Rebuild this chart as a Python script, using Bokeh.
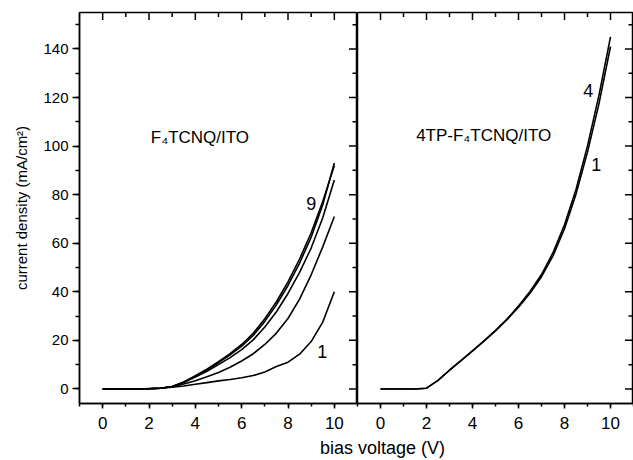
from bokeh.plotting import figure
from bokeh.models import SingleIntervalTicker, Range1d, Label, ColumnDataSource
from bokeh.layouts import column, row
from bokeh.embed import file_html
from bokeh.resources import INLINE
from bokeh.core.properties import value

FONT = "Liberation Sans"

# ---------------- data ----------------
volts = [0, 0.5, 1, 1.5, 2, 2.5, 3, 3.5, 4, 4.5, 5, 5.5, 6, 6.5, 7, 7.5, 8, 8.5, 9, 9.5, 10]

# F4TCNQ/ITO, successive sweeps (1 ... 9)
left_sweep_9a = [0, 0, 0, 0, 0.1, 0.3, 1.0, 2.8, 5.2, 7.8, 10.8, 14.0, 17.6, 22.0, 27.8, 34.6, 42.6, 51.8, 62.5, 75.8, 93.0]
left_sweep_9b = [0, 0, 0, 0, 0.1, 0.3, 1.0, 2.9, 5.4, 8.1, 11.2, 14.5, 18.3, 22.9, 28.9, 35.9, 44.1, 53.5, 64.3, 77.2, 92.0]
left_sweep_c = [0, 0, 0, 0, 0.1, 0.3, 0.9, 2.6, 4.9, 7.3, 10.0, 12.9, 16.2, 20.2, 25.5, 31.8, 39.3, 48.0, 58.0, 70.5, 86.0]
left_sweep_d = [0, 0, 0, 0, 0.1, 0.3, 0.9, 2.0, 3.4, 5.0, 6.8, 8.9, 11.5, 14.5, 18.3, 23.0, 29.0, 37.0, 47.0, 58.5, 71.0]
left_sweep_1 = [0, 0, 0, 0, 0.2, 0.4, 0.7, 1.2, 1.9, 2.6, 3.3, 3.9, 4.6, 5.5, 7.0, 9.2, 11.0, 14.3, 19.5, 27.5, 40.0]
left_series = [left_sweep_9a, left_sweep_9b, left_sweep_c, left_sweep_d, left_sweep_1]

# 4TP-F4TCNQ/ITO, sweeps 1 and 4
right_sweep_4 = [0, 0, 0, 0, 0.3, 3.5, 7.7, 11.7, 15.7, 19.8, 24.1, 28.8, 34.1, 40.1, 47.1, 56.1, 67.6, 82.1, 100.1, 121.0, 145.0]
right_sweep_1 = [0, 0, 0, 0, 0.3, 3.5, 7.7, 11.7, 15.7, 19.7, 23.9, 28.5, 33.6, 39.4, 46.2, 54.8, 66.0, 80.2, 97.5, 117.5, 141.0]
right_series = [right_sweep_4, right_sweep_1]

# tick values shared by both panels
x_major_ticks = [0, 2, 4, 6, 8, 10]
x_minor_ticks = [1, 3, 5, 7, 9]
y_major_ticks = [0, 20, 40, 60, 80, 100, 120, 140]
y_minor_ticks = [10, 30, 50, 70, 90, 110, 130, 150]

# annotations
left_title = "F₄TCNQ/ITO"
right_title = "4TP-F₄TCNQ/ITO"
left_title_pos = (2.08, 103.5)
right_title_pos = (1.55, 104.5)
left_num_text = ["9", "1"]
left_num_x = [8.79, 9.26]
left_num_y = [76.5, 15.5]
right_num_text = ["4", "1"]
right_num_x = [8.82, 9.16]
right_num_y = [122.8, 92.3]

x_label = "bias voltage (V)"
y_label = "current density (mA/cm²)"

X_RANGE = (-1, 11)
Y_RANGE = (-6, 155)
FRAME_H = 390          # px, frame height of both panels
FRAME_W = (278, 276)   # px, frame widths of left / right panel


# ---------------- helpers ----------------
def xt():
    return SingleIntervalTicker(interval=2, num_minor_ticks=2)


def yt():
    return SingleIntervalTicker(interval=20, num_minor_ticks=2)


def inner_ticks(p, frame_w):
    # inward ticks along the top and right frame edges (lengths given in px),
    # starting a hair inside the frame edge
    ux = (X_RANGE[1] - X_RANGE[0]) / frame_w    # data units per px
    uy = (Y_RANGE[1] - Y_RANGE[0]) / FRAME_H
    top = Y_RANGE[1] - 0.5 * uy
    rgt = X_RANGE[1] - 0.5 * ux
    xs0, ys0, xs1, ys1 = [], [], [], []
    for ticks, length in ((x_major_ticks, 7), (x_minor_ticks, 4)):
        for t in ticks:
            xs0.append(t); ys0.append(top); xs1.append(t); ys1.append(top - length * uy)
    for ticks, length in ((y_major_ticks, 8), (y_minor_ticks, 4.5)):
        for t in ticks:
            xs0.append(rgt); ys0.append(t); xs1.append(rgt - length * ux); ys1.append(t)
    src = ColumnDataSource(dict(x0=xs0, y0=ys0, x1=xs1, y1=ys1))
    p.segment(x0="x0", y0="y0", x1="x1", y1="y1", source=src,
              line_color="black", line_width=1.5)


def style_common(p):
    p.grid.visible = False
    p.outline_line_color = "black"
    p.outline_line_width = 1.5
    p.background_fill_color = "white"
    p.border_fill_color = "white"

    bx = p.xaxis[0]
    bx.ticker = xt()
    bx.major_tick_out = 5
    bx.major_tick_in = 0
    bx.minor_tick_out = 3
    bx.minor_tick_in = 0
    bx.major_tick_line_width = 1.5
    bx.minor_tick_line_width = 1.5
    bx.axis_line_width = 1.5
    bx.major_label_text_font = FONT
    bx.major_label_text_font_size = "17px"
    bx.major_label_text_color = "black"
    bx.major_label_standoff = 8


# ---------------- left panel ----------------
p1 = figure(width=79 + FRAME_W[0], height=431,
            x_range=Range1d(*X_RANGE), y_range=Range1d(*Y_RANGE),
            min_border_left=79, min_border_right=0, min_border_top=12, min_border_bottom=0,
            output_backend="svg", toolbar_location=None)
style_common(p1)
ly = p1.yaxis[0]
ly.ticker = yt()
ly.major_tick_out = 7
ly.major_tick_in = 0
ly.minor_tick_out = 4
ly.minor_tick_in = 0
ly.major_tick_line_width = 1.5
ly.minor_tick_line_width = 1.5
ly.axis_line_width = 1.5
ly.major_label_text_font = FONT
ly.major_label_text_font_size = "15px"
ly.major_label_text_color = "black"
ly.major_label_standoff = 4
ly.axis_label = y_label
ly.axis_label_text_font = FONT
ly.axis_label_text_font_size = "15px"
ly.axis_label_text_font_style = "normal"
ly.axis_label_text_color = "black"
ly.axis_label_standoff = 10

for s in left_series:
    p1.line(volts, s, line_color="black", line_width=1.6)
inner_ticks(p1, FRAME_W[0])

p1.text(x=[left_title_pos[0]], y=[left_title_pos[1]], text=[left_title],
        text_font=value(FONT), text_font_size="17px", text_color="black",
        text_align="left", text_baseline="alphabetic")
p1.text(x=left_num_x, y=left_num_y, text=left_num_text,
        text_font=value(FONT), text_font_size="18px", text_color="black",
        text_align="left", text_baseline="alphabetic")

# ---------------- right panel ----------------
p2 = figure(width=FRAME_W[1], height=431,
            x_range=Range1d(*X_RANGE), y_range=Range1d(*Y_RANGE),
            min_border_left=0, min_border_right=0, min_border_top=12, min_border_bottom=0,
            output_backend="svg", toolbar_location=None)
style_common(p2)
p2.yaxis[0].visible = False

for s in right_series:
    p2.line(volts, s, line_color="black", line_width=1.6)
inner_ticks(p2, FRAME_W[1])

p2.text(x=[right_title_pos[0]], y=[right_title_pos[1]], text=[right_title],
        text_font=value(FONT), text_font_size="17px", text_color="black",
        text_align="left", text_baseline="alphabetic")
p2.text(x=right_num_x, y=right_num_y, text=right_num_text,
        text_font=value(FONT), text_font_size="18px", text_color="black",
        text_align="left", text_baseline="alphabetic")

# ---------------- shared x label ----------------
p3 = figure(width=633, height=29, x_range=Range1d(0, 633), y_range=Range1d(0, 29),
            min_border=0, output_backend="svg", toolbar_location=None)
p3.xaxis.visible = False
p3.yaxis.visible = False
p3.grid.visible = False
p3.outline_line_color = None
p3.add_layout(Label(x=382, y=13, text=x_label, text_font=FONT, text_font_size="18px",
                    text_color="black", text_align="center", text_baseline="middle"))

layout = column(row(p1, p2, spacing=0), p3, spacing=0)

open("out.html", "w").write(file_html(layout, INLINE))
